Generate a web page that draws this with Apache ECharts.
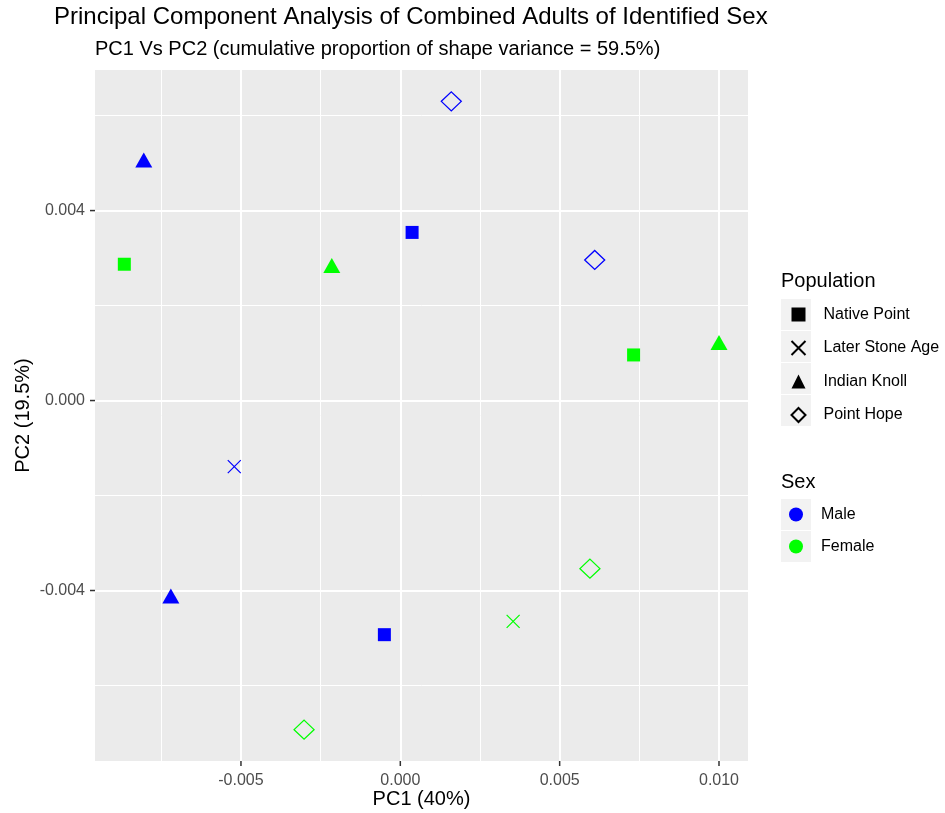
<!DOCTYPE html>
<html>
<head>
<meta charset="utf-8">
<script src="https://cdn.jsdelivr.net/npm/echarts@6/dist/echarts.min.js"></script>
<style>
  html, body { margin: 0; padding: 0; background: #fff; }
  #chart { width: 945px; height: 813px; }
</style>
</head>
<body>
<div id="chart"></div>
<script>
// points are [PC1, PC2, sex]
const nativePoint = [[0.00037, 0.00354, 'Male'], [-0.00050, -0.00493, 'Male'], [-0.00866, 0.00287, 'Female'], [0.00732, 0.00096, 'Female']];
const laterStoneAge = [[-0.00521, -0.00139, 'Male'], [0.00354, -0.00465, 'Female']];
const indianKnoll = [[-0.00805, 0.00501, 'Male'], [-0.00720, -0.00417, 'Male'], [-0.00215, 0.00279, 'Female'], [0.01000, 0.00117, 'Female']];
const pointHope = [[0.00160, 0.00630, 'Male'], [0.00610, 0.00296, 'Male'], [-0.00302, -0.00693, 'Female'], [0.00595, -0.00354, 'Female']];

const populations = ['Native Point', 'Later Stone Age', 'Indian Knoll', 'Point Hope'];
const sexes = ['Male', 'Female'];
const sexColors = { Male: '#0000ff', Female: '#00ff00' };

const xRange = [-0.00958, 0.01091];
const yRange = [-0.00759, 0.00696];
const xMajor = [-0.005, 0, 0.005, 0.010];
const xMinor = [-0.0075, -0.0025, 0.0025, 0.0075];
const yMajor = [-0.004, 0, 0.004];
const yMinor = [-0.006, -0.002, 0.002, 0.006];

const chart = echarts.init(document.getElementById('chart'));

function filled(list) {
    return list.map(p => ({ value: [p[0], p[1]], itemStyle: { color: sexColors[p[2]] } }));
}
function hollow(list) {
    return list.map(p => ({ value: [p[0], p[1]], itemStyle: { borderColor: sexColors[p[2]] } }));
}

const crossPath = 'path://M0,0L10,10M10,0L0,10';

// grey legend key boxes
let keyBoxes = [];
populations.forEach((p, i) => {
    keyBoxes.push({ type: 'rect', left: 781, top: 299 + i * 32, shape: { width: 30, height: 31 }, style: { fill: '#f2f2f2' }, z: -1 });
});
sexes.forEach((s, i) => {
    keyBoxes.push({ type: 'rect', left: 781, top: 499 + i * 32, shape: { width: 30, height: 31 }, style: { fill: '#f2f2f2' }, z: -1 });
});

const legendText = { fontSize: 16, color: '#000', lineHeight: 16, padding: [0, 0, 0, 13] };
const baseGraphic = keyBoxes.concat([
    { type: 'text', left: 781, top: 271, style: { text: 'Population', font: '20px "Liberation Sans"', fill: '#000' } },
    { type: 'text', left: 781, top: 472, style: { text: 'Sex', font: '20px "Liberation Sans"', fill: '#000' } }
]);

let option = {
    animation: false,
    textStyle: { fontFamily: 'Liberation Sans' },
    title: [
        {
            text: 'Principal Component Analysis of Combined Adults of Identified Sex',
            left: 54, top: 5, padding: 0,
            textStyle: { fontSize: 24, fontWeight: 'normal', color: '#000', lineHeight: 24 }
        },
        {
            text: 'PC1 Vs PC2 (cumulative proportion of shape variance = 59.5%)',
            left: 95, top: 39, padding: 0,
            textStyle: { fontSize: 20, fontWeight: 'normal', color: '#000', lineHeight: 20 }
        }
    ],
    graphic: { elements: baseGraphic },
    legend: [
        {
            data: populations,
            orient: 'vertical',
            left: 789, top: 306.5, padding: 0,
            itemWidth: 14, itemHeight: 14, itemGap: 16,
            selectedMode: false,
            textStyle: legendText
        },
        {
            data: sexes,
            orient: 'vertical',
            left: 789, top: 506.5, padding: 0,
            itemWidth: 14, itemHeight: 14, itemGap: 16,
            selectedMode: false,
            textStyle: legendText
        }
    ],
    grid: {
        left: 95, right: 197, top: 70, bottom: 52,
        outerBoundsMode: 'none',
        show: true, backgroundColor: '#ebebeb', borderWidth: 0
    },
    xAxis: [
        {
            type: 'value', min: xRange[0], max: xRange[1], position: 'bottom',
            name: 'PC1 (40%)', nameLocation: 'middle', nameGap: 28, nameMoveOverlap: false,
            nameTextStyle: { fontSize: 20, color: '#000' },
            axisLine: { show: false, onZero: false },
            axisTick: { show: false, customValues: xMajor },
            axisLabel: { customValues: xMajor, formatter: v => v.toFixed(3), color: '#4d4d4d', fontSize: 16, margin: 12 },
            splitLine: { show: true, lineStyle: { color: '#fff', width: 2 } },
            z: 1
        },
        {
            type: 'value', min: xRange[0], max: xRange[1], position: 'bottom',
            axisLine: { show: false, onZero: false },
            axisTick: { show: false, customValues: xMinor },
            axisLabel: { show: false },
            splitLine: { show: true, lineStyle: { color: '#fff', width: 1 } },
            z: 0
        }
    ],
    yAxis: [
        {
            type: 'value', min: yRange[0], max: yRange[1], position: 'left',
            name: 'PC2 (19.5%)', nameLocation: 'middle', nameGap: 62, nameRotate: 90, nameMoveOverlap: false,
            nameTextStyle: { fontSize: 20, color: '#000' },
            axisLine: { show: false, onZero: false },
            axisTick: { show: false, customValues: yMajor },
            axisLabel: { customValues: yMajor, formatter: v => v.toFixed(3), color: '#4d4d4d', fontSize: 16, margin: 10 },
            splitLine: { show: true, lineStyle: { color: '#fff', width: 2 } },
            z: 1
        },
        {
            type: 'value', min: yRange[0], max: yRange[1], position: 'left',
            axisLine: { show: false, onZero: false },
            axisTick: { show: false, customValues: yMinor },
            axisLabel: { show: false },
            splitLine: { show: true, lineStyle: { color: '#fff', width: 1 } },
            z: 0
        }
    ],
    series: [
        {
            name: 'Native Point', type: 'scatter', symbol: 'rect', symbolSize: 13,
            itemStyle: { color: '#000', opacity: 1 },
            data: filled(nativePoint)
        },
        {
            name: 'Later Stone Age', type: 'scatter', symbol: crossPath, symbolSize: 13,
            itemStyle: { color: 'none', borderColor: '#000', borderWidth: 1.2, opacity: 1 },
            data: hollow(laterStoneAge)
        },
        {
            name: 'Indian Knoll', type: 'scatter', symbol: 'triangle', symbolSize: [17, 15],
            symbolOffset: [0, -2.5],
            itemStyle: { color: '#000', opacity: 1 },
            data: filled(indianKnoll)
        },
        {
            name: 'Point Hope', type: 'scatter', symbol: 'diamond', symbolSize: [20, 19],
            itemStyle: { color: 'none', borderColor: '#000', borderWidth: 1.3, opacity: 1 },
            data: hollow(pointHope)
        },
        {
            name: 'Male', type: 'scatter', symbol: 'circle', symbolSize: 14,
            itemStyle: { color: sexColors.Male, opacity: 1 }, data: []
        },
        {
            name: 'Female', type: 'scatter', symbol: 'circle', symbolSize: 14,
            itemStyle: { color: sexColors.Female, opacity: 1 }, data: []
        }
    ]
};

chart.setOption(option);

// small outside tick marks, positioned with the axes' own scales
const xPx = v => chart.convertToPixel({ xAxisIndex: 0 }, v);
const yPx = v => chart.convertToPixel({ yAxisIndex: 0 }, v);
const panelBottom = yPx(yRange[0]);
const panelLeft = xPx(xRange[0]);

let ticks = [];
xMajor.forEach(v => {
    const x = xPx(v);
    ticks.push({
        type: 'rect', silent: true, z: 100,
        shape: { x: x - 0.75, y: panelBottom, width: 1.5, height: 5 },
        style: { fill: '#333333' }
    });
});
yMajor.forEach(v => {
    const y = yPx(v);
    ticks.push({
        type: 'rect', silent: true, z: 100,
        shape: { x: panelLeft - 5, y: y - 0.75, width: 5, height: 1.5 },
        style: { fill: '#333333' }
    });
});

chart.setOption({ graphic: { elements: baseGraphic.concat(ticks) } });
</script>
</body>
</html>
